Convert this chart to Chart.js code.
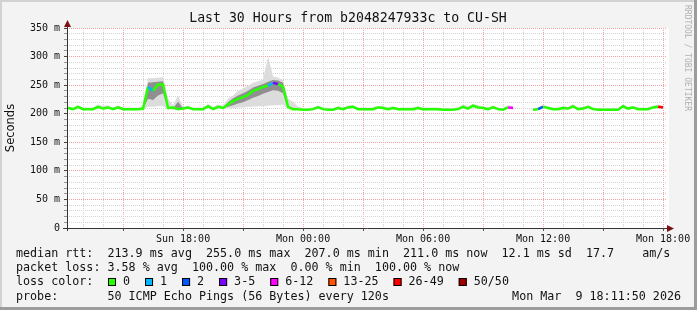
<!DOCTYPE html>
<html>
<head>
<meta charset="utf-8">
<script src="https://cdn.jsdelivr.net/npm/chart.js@4/dist/chart.umd.min.js"></script>
<style>
html, body { margin: 0; padding: 0; background: #f3f3f3; }
#wrap { width: 697px; height: 310px; }
</style>
</head>
<body>
<div id="wrap"><canvas id="smoke" width="697" height="310"></canvas></div>
<script>
// window: Sun 12:11:50 -> Mon 18:11:50, one sample every 15 min (hours of day, Mon = +24)
var startHour = 12.25, stepHour = 0.25;

// median rtt in ms
var median = [
  210,208,212,208,208,208,212,209,211,208,
  211,208,208,208,208,209,247,240,251,251,
  210,211,208,209,211,208,208,208,213,208,
  212,210,216,222,226,229,233,240,243,247,
  249,254,252,247,212,208,208,207,207,208,
  211,208,207,207,210,208,211,212,208,208,
  208,208,211,210,208,210,208,208,208,208,
  210,208,208,208,208,207,207,207,208,212,
  209,214,211,210,208,211,208,207,211,210,
  null,null,null,207,208,212,210,208,208,210,
  209,213,208,209,212,208,207,207,207,207,
  207,213,209,211,208,208,208,211,212,211
];
// lost pings out of 50
var loss = [
  0,0,0,0,0,0,0,0,0,0,
  0,0,0,0,0,0,0,1,0,0,
  0,0,0,0,0,0,0,0,0,0,
  0,0,0,0,0,0,0,0,0,0,
  0,1,3,0,0,0,0,0,0,0,
  0,0,0,0,0,0,0,0,0,0,
  0,0,0,0,0,0,0,0,0,0,
  0,0,0,0,0,0,0,0,0,0,
  0,0,0,0,0,0,0,0,0,8,
  0,0,0,4,0,2,0,0,0,0,
  0,0,0,0,0,0,0,0,0,0,
  0,0,0,0,0,0,0,0,0,30
];
// smoke: slowest / fastest ping
var smokeMax = [
  213,211,215,211,211,211,216,214,215,211,
  215,211,211,211,211,212,262,262,263,264,
  226,215,232,212,214,211,211,211,217,212,
  216,214,226,232,240,244,249,254,257,260,
  300,265,263,259,226,221,212,210,210,211,
  215,211,210,210,213,211,215,215,211,211,
  211,211,214,213,211,213,211,211,211,211,
  213,211,211,211,211,210,210,210,211,216,
  213,217,215,213,211,215,211,210,215,214,
  null,null,null,210,211,216,213,211,211,213,
  212,217,211,212,215,211,210,210,210,210,
  210,216,212,214,211,211,211,214,216,214
];
var smokeMin = [
  209,207,208,207,207,207,208,208,208,207,
  208,207,207,207,207,208,212,212,213,214,
  207,208,207,208,208,207,207,207,209,207,
  208,208,210,210,211,211,212,212,213,213,
  214,215,215,216,208,207,207,206,206,207,
  210,207,206,206,209,207,210,211,207,207,
  207,207,210,209,207,209,207,207,207,207,
  209,207,207,207,207,206,206,206,207,211,
  208,213,210,209,207,210,207,206,210,209,
  null,null,null,206,207,211,209,207,207,209,
  208,212,207,208,211,207,206,206,206,206,
  206,212,208,210,207,207,207,210,211,210
];
// smoke: dense middle of the ping spread
var smokeHi = [
  null,null,null,null,null,null,null,null,null,null,
  null,null,null,null,null,210,254,255,256,257,
  212,209,221,209,null,null,null,null,null,null,
  null,211,220,227,232,236,240,246,249,252,
  256,259,258,254,214,null,null,null,null,null
];
var smokeLo = [
  null,null,null,null,null,null,null,null,null,null,
  null,null,null,null,null,209,226,224,232,236,
  209,208,208,208,null,null,null,null,null,null,
  null,209,212,215,218,220,224,228,231,235,
  238,241,240,236,209,null,null,null,null,null
];

var xTickHours = [18, 24, 30, 36, 42];
var xTickLabels = ['Sun 18:00', 'Mon 00:00', 'Mon 06:00', 'Mon 12:00', 'Mon 18:00'];
var yTickValues = [0, 50, 100, 150, 200, 250, 300, 350];
var yTickLabels = ['0', '50 m', '100 m', '150 m', '200 m', '250 m', '300 m', '350 m'];

var lossNames = ['0', '1', '2', '3-5', '6-12', '13-25', '26-49', '50/50'];
var lossColors = ['#26ff00', '#00b8ff', '#0059ff', '#7e00ff', '#ff00ff', '#ff5500', '#ff0000', '#a10000'];
var lossLimits = [0, 1, 2, 5, 12, 25, 49, 50];

var rttLine = 'median rtt:  213.9 ms avg  255.0 ms max  207.0 ms min  211.0 ms now  12.1 ms sd  17.7    am/s';
var lossLine = 'packet loss: 3.58 % avg  100.00 % max  0.00 % min  100.00 % now';
var probeLine = 'probe:       50 ICMP Echo Pings (56 Bytes) every 120s';
var stampText = 'Mon Mar  9 18:11:50 2026';
var titleText = 'Last 30 Hours from b2048247933c to CU-SH';

var tStart = 12 + 11/60 + 50/3600, tEnd = tStart + 30;

function pts(arr) {
  return arr.map(function (v, i) { return { x: startHour + i * stepHour, y: v }; });
}
function lossColor(n) {
  for (var k = 0; k < lossLimits.length; k++) {
    if (n <= lossLimits[k]) return lossColors[k];
  }
  return lossColors[lossColors.length - 1];
}

var mono = '"DejaVu Sans Mono", monospace';

var decor = {
  id: 'decor',
  beforeDraw: function (chart) {
    var c = chart.ctx, a = chart.chartArea;
    c.save();
    c.fillStyle = '#f3f3f3';
    c.fillRect(0, 0, 697, 310);
    c.fillStyle = '#ffffff';
    c.fillRect(a.left, a.top, a.right - a.left + 2, a.bottom - a.top);
    c.restore();
  },
  afterDraw: function (chart) {
    var c = chart.ctx, a = chart.chartArea;
    c.save();
    // frame
    c.fillStyle = '#d2d2d2';
    c.fillRect(0, 0, 697, 2);
    c.fillRect(0, 0, 2, 310);
    c.fillStyle = '#9c9c9c';
    c.fillRect(694, 0, 3, 310);
    c.fillRect(0, 307, 697, 3);

    // axes
    c.strokeStyle = '#333';
    c.lineWidth = 1;
    c.beginPath();
    c.moveTo(a.left + 0.5, a.bottom + 3);
    c.lineTo(a.left + 0.5, a.top - 6);
    c.moveTo(a.left - 4, a.bottom + 0.5);
    c.lineTo(a.right + 5, a.bottom + 0.5);
    c.stroke();
    c.fillStyle = '#7a1010';
    c.beginPath();
    c.moveTo(a.left + 0.5, a.top - 8);
    c.lineTo(a.left - 3, a.top - 1);
    c.lineTo(a.left + 4, a.top - 1);
    c.closePath();
    c.fill();
    c.beginPath();
    c.moveTo(a.right + 7, a.bottom + 0.5);
    c.lineTo(a.right, a.bottom - 3);
    c.lineTo(a.right, a.bottom + 4);
    c.closePath();
    c.fill();

    // title
    c.fillStyle = '#111';
    c.font = '13.2px ' + mono;
    c.textAlign = 'center';
    c.textBaseline = 'middle';
    c.fillText(titleText, 348, 19);

    // vertical labels
    c.save();
    c.translate(11, 128);
    c.rotate(-Math.PI / 2);
    c.font = '11.5px "DejaVu Sans", sans-serif';
    c.fillStyle = '#111';
    c.fillText('Seconds', 0, 0);
    c.restore();
    c.save();
    c.translate(687, 5);
    c.rotate(Math.PI / 2);
    c.textAlign = 'left';
    c.font = '8px ' + mono;
    c.fillStyle = '#b0b0b0';
    c.fillText('RRDTOOL / TOBI OETIKER', 0, 0);
    c.restore();

    // legend
    c.font = '11.7px ' + mono;
    c.fillStyle = '#111';
    c.textAlign = 'left';
    c.fillText(rttLine, 16, 254);
    c.fillText(lossLine, 16, 268);
    c.fillText('loss color:', 16, 282);
    c.fillText(probeLine, 16, 297);
    c.textAlign = 'right';
    c.fillText(stampText, 681, 297);
    c.textAlign = 'left';
    var bx = 108;
    for (var k = 0; k < lossNames.length; k++) {
      c.fillStyle = lossColors[k];
      c.fillRect(bx, 278, 8, 8);
      c.strokeStyle = '#000';
      c.strokeRect(bx + 0.5, 278.5, 7, 7);
      c.fillStyle = '#111';
      c.fillText(lossNames[k], bx + 15, 282);
      bx += 15 + c.measureText(lossNames[k]).width + 15;
    }
    c.restore();
  }
};

new Chart(document.getElementById('smoke'), {
  type: 'line',
  data: {
    datasets: [
      {
        data: pts(median),
        borderColor: lossColors[0],
        borderWidth: 2.5,
        pointRadius: 0,
        fill: false,
        tension: 0,
        spanGaps: false,
        order: 0,
        segment: {
          borderColor: function (ctx) { return lossColor(loss[ctx.p1DataIndex]); }
        }
      },
      { data: pts(smokeHi), borderWidth: 0, pointRadius: 0, backgroundColor: '#8f8f8f', fill: '+1', order: 1 },
      { data: pts(smokeLo), borderWidth: 0, pointRadius: 0, fill: false, order: 1 },
      { data: pts(smokeMax), borderWidth: 0, pointRadius: 0, backgroundColor: '#dcdcdc', fill: '+1', order: 2 },
      { data: pts(smokeMin), borderWidth: 0, pointRadius: 0, fill: false, order: 2 }
    ]
  },
  options: {
    responsive: false,
    animation: false,
    layout: { padding: { top: 28, right: 30, left: 0, bottom: 0 } },
    plugins: { legend: { display: false }, tooltip: { enabled: false } },
    scales: {
      x: {
        type: 'linear',
        min: tStart,
        max: tEnd,
        afterBuildTicks: function (s) {
          var t = [];
          for (var h = 13; h <= 42; h++) t.push({ value: h });
          s.ticks = t;
        },
        afterFit: function (s) { s.height = 82; },
        ticks: {
          autoSkip: false,
          maxRotation: 0,
          padding: 2,
          color: '#111',
          font: { family: mono, size: 10 },
          callback: function (v) {
            var k = xTickHours.indexOf(v);
            return k < 0 ? '' : xTickLabels[k];
          }
        },
        grid: {
          color: function (ctx) {
            return ctx.tick && ctx.tick.value % 3 === 0 ? '#f2a0a0' : '#d4d4d4';
          },
          tickColor: function (ctx) {
            return ctx.tick && ctx.tick.value % 3 === 0 ? '#555' : 'rgba(0,0,0,0)';
          },
          tickLength: 3,
          lineWidth: 1
        },
        border: { display: false, dash: [1, 1] }
      },
      y: {
        min: 0,
        max: 350,
        afterBuildTicks: function (s) {
          var t = [];
          for (var v = 0; v <= 350; v += 10) t.push({ value: v });
          s.ticks = t;
        },
        afterFit: function (s) { s.width = 67; },
        ticks: {
          autoSkip: false,
          padding: 4,
          color: '#111',
          font: { family: mono, size: 10 },
          callback: function (v) {
            var k = yTickValues.indexOf(v);
            return k < 0 ? '' : yTickLabels[k];
          }
        },
        grid: {
          color: function (ctx) {
            if (ctx.tick && ctx.tick.value === 0) return 'rgba(0,0,0,0)';
            return ctx.tick && ctx.tick.value % 50 === 0 ? '#f2a0a0' : '#d4d4d4';
          },
          tickColor: function (ctx) {
            return ctx.tick && ctx.tick.value % 50 === 0 ? '#444' : '#999';
          },
          tickLength: 3,
          lineWidth: 1
        },
        border: { display: false, dash: [1, 1] }
      }
    }
  },
  plugins: [decor]
});
</script>
</body>
</html>
